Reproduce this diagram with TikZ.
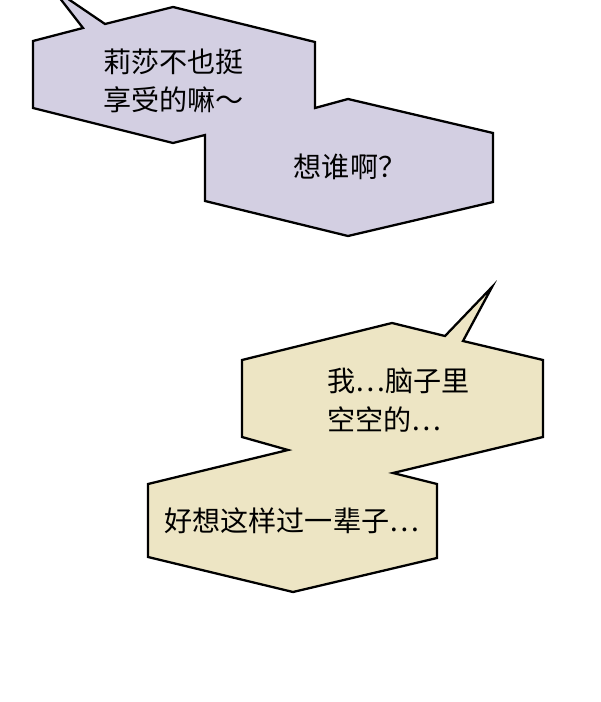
\documentclass[tikz,border=0pt]{standalone}
\usepackage{xcolor}
\usepackage{fontspec}
\setmainfont{Noto Sans CJK SC}
\usepackage{tikz}
\definecolor{lilac}{HTML}{D3CFE2}
\definecolor{cream}{HTML}{EDE5C4}

\begin{document}
\begin{tikzpicture}[x=0.02cm, y=-0.02cm, every node/.style={font=\fontsize{16}{22}\selectfont, align=left, inner sep=0pt}]
\useasboundingbox (0,0) rectangle (600,702);
\fill[white] (0,0) rectangle (600,702);

\draw[line width=1.3pt, fill=lilac, line join=miter] (33,41) -- (83,28) -- (52,-12) -- (105,24) -- (173,7) -- (315,42) -- (315,108) -- (348,99) -- (493,133) -- (493,202) -- (348,236) -- (205,201) -- (205,135) -- (173,143) -- (33,108) -- cycle;

\draw[line width=1.3pt, fill=cream, line join=miter] (242,360) -- (392,323) -- (445,336) -- (492,287) -- (463,341) -- (543,360) -- (543,437) -- (393,473) -- (437,484) -- (437,558) -- (293,592) -- (148,557) -- (148,484) -- (288,450) -- (242,437) -- cycle;

\node(q1)[anchor=west] at (103,81) {莉莎不也挺\\享受的嘛～};
\node(q2) at (350,167) {想谁啊？};

\node(a1)[anchor=west] at (327,400) {我…脑子里\\空空的…};
\node(a2)[anchor=west] at (164,521) {好想这样过一辈子…};
\end{tikzpicture}
\end{document}
